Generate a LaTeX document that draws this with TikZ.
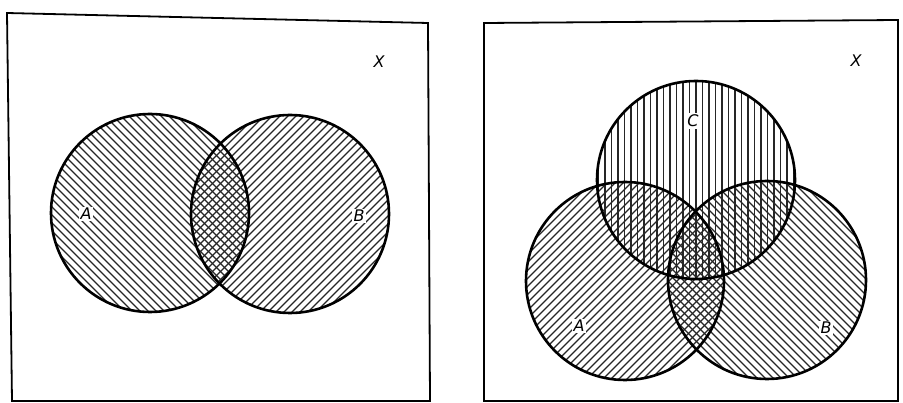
\documentclass[tikz,border=0pt]{standalone}
\usepackage{fontspec}
\setmainfont{DejaVu Sans}
\usetikzlibrary{calc}
\begin{document}
\begin{tikzpicture}[x=1pt,y=-1pt,
  frame/.style={line width=1.8pt, line join=miter},
  ring/.style={line width=2.6pt},
  hatch/.style={line width=1.2pt, black!85},
  lbl/.style={font=\itshape\fontsize{16}{16}\selectfont, inner sep=1.5pt},
  inlbl/.style={lbl, fill=white}]
\useasboundingbox (0,0) rectangle (903,403);
\fill[white] (0,0) rectangle (903,403);
% centres
\coordinate (LA) at (150,213);
\coordinate (LB) at (290,214);
\coordinate (RA) at (625,281);
\coordinate (RB) at (767,280);
\coordinate (RC) at (696,180);
\def\R{99}
% ---------- left figure ----------
\begin{scope}
  \clip (LA) circle (\R);
  \foreach \c in {-300,-292,...,300}
    \draw[hatch] ($(LA)+(\c-130,-130)$) -- ($(LA)+(\c+130,130)$);
\end{scope}
\begin{scope}
  \clip (LB) circle (\R);
  \foreach \c in {-300,-292,...,300}
    \draw[hatch] ($(LB)+(\c-130,130)$) -- ($(LB)+(\c+130,-130)$);
\end{scope}
\draw[ring] (LA) circle (\R);
\draw[ring] (LB) circle (\R);
\draw[frame] (7,13) -- (428,23) -- (430,401) -- (12,401) -- cycle;
\node[lbl] (xl) at (379,62) {X};
\node[inlbl] (al) at (86,214) {A};
\node[inlbl] (bl) at (359,216) {B};
% ---------- right figure ----------
\begin{scope}
  \clip (RA) circle (\R);
  \foreach \c in {-300,-292,...,300}
    \draw[hatch] ($(RA)+(\c-130,130)$) -- ($(RA)+(\c+130,-130)$);
\end{scope}
\begin{scope}
  \clip (RB) circle (\R);
  \foreach \c in {-300,-292,...,300}
    \draw[hatch] ($(RB)+(\c-130,-130)$) -- ($(RB)+(\c+130,130)$);
\end{scope}
\begin{scope}
  \clip (RC) circle (\R);
  \foreach \c in {-104,-97.5,...,104}
    \draw[hatch] ($(RC)+(\c,-110)$) -- ($(RC)+(\c,110)$);
\end{scope}
\draw[ring] (RA) circle (\R);
\draw[ring] (RB) circle (\R);
\draw[ring] (RC) circle (\R);
\draw[frame] (484,23) -- (898,20) -- (898,401) -- (484,401) -- cycle;
\node[lbl] (xr) at (856,61) {X};
\node[inlbl] (cr) at (693,121) {C};
\node[inlbl] (ar) at (579,326) {A};
\node[inlbl] (br) at (826,328) {B};
\end{tikzpicture}
\end{document}
